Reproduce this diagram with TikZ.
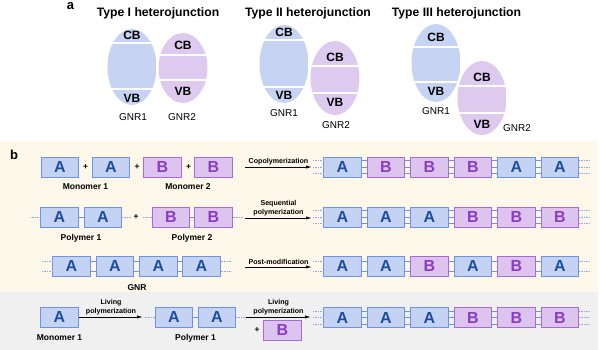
\documentclass[tikz,border=0pt]{standalone}
\usepackage{fontspec}
\setmainfont{Liberation Sans}
\usepackage{tikz}
\usetikzlibrary{arrows.meta,positioning,calc}
\definecolor{fillA}{HTML}{C4D2F4}
\definecolor{drawA}{HTML}{6D93E6}
\definecolor{textA}{HTML}{1D4E9E}
\definecolor{fillB}{HTML}{DCC4EE}
\definecolor{drawB}{HTML}{A76BD9}
\definecolor{textB}{HTML}{8B3CC2}
\definecolor{gnrblue}{HTML}{C6D3F2}
\definecolor{gnrpurple}{HTML}{DEC9EF}
\definecolor{cream}{HTML}{FDF8E9}
\definecolor{greyband}{HTML}{F0F0F0}

\begin{document}
\begin{tikzpicture}[x=1pt,y=-1pt,
  unit/.style={draw=draw#1,fill=fill#1,text=text#1,line width=0.8pt,
    minimum width=37.5pt,minimum height=20pt,inner sep=0pt,
    font=\fontsize{16}{16}\selectfont\bfseries},
  bond/.style={draw=drawA,line width=0.7pt},
  tail/.style={draw=drawA!80,densely dotted,line width=0.6pt},
  rxn/.style={-{Latex[length=6pt,width=3.2pt]},line width=0.9pt},
  rxnlbl/.style={font=\fontsize{7.1}{8.7}\selectfont\bfseries,align=center,
    above=1.5pt,inner sep=0pt},
  lbl/.style={font=\fontsize{8.5}{10}\selectfont\bfseries},
  band/.style={font=\fontsize{12}{12}\selectfont\bfseries},
  gnr/.style={font=\fontsize{10}{10}\selectfont},
  title/.style={font=\fontsize{12.2}{13}\selectfont\bfseries},
  panel/.style={font=\fontsize{13}{13}\selectfont\bfseries},
  plus/.style={font=\fontsize{8.5}{8.5}\selectfont\bfseries}]
  \useasboundingbox (0,0) rectangle (600,350);

  % panel a: band alignment
  \node[panel] (pa) at (70.5,6) {a};
  \node[title] (t1) at (158,13) {Type I heterojunction};
  \node[title] (t2) at (308,13) {Type II heterojunction};
  \node[title] (t3) at (456.5,13) {Type III heterojunction};
  \foreach \k/\cx/\cy/\ry/\col/\la/\lb/\cb/\vb in {
      1/132/67/38/gnrblue/43/89/35/98,
      2/183/68/35/gnrpurple/55/80/45/91,
      3/284/64/39/gnrblue/40/87/32/95,
      4/335/78/37/gnrpurple/66/93/57/102,
      5/436/63/39/gnrblue/47/82/37/91,
      6/482/98/37/gnrpurple/86/113/77/124} {
    \begin{scope}
      \clip (\cx,\cy) ellipse [x radius=24.5, y radius=\ry];
      \fill[\col] (\cx-25,\cy-\ry) rectangle (\cx+25,\cy+\ry);
      \draw[white,line width=1.6pt]
        (\cx-25,\la) -- (\cx+25,\la) (\cx-25,\lb) -- (\cx+25,\lb);
    \end{scope}
    \node[band] (cb\k) at (\cx,\cb) {CB};
    \node[band] (vb\k) at (\cx,\vb) {VB};
  }
  \node[gnr] (n1) at (133,117) {GNR1};
  \node[gnr] (n2) at (182,117) {GNR2};
  \node[gnr] (n3) at (284,113) {GNR1};
  \node[gnr] (n4) at (336,125) {GNR2};
  \node[gnr] (n5) at (436,111) {GNR1};
  \node[gnr] (n6) at (517,128) {GNR2};

  % panel b: backgrounds
  \fill[cream] (0,141) rectangle (598,292);
  \fill[greyband] (0,292) rectangle (598,350);
  \node[panel] (pb) at (14,155) {b};

  % product chains
  \foreach \r/\y/\seq/\offs in {
      1/167/{A,B,B,B,A,A}/{-6.5,0,6.5},
      2/217/{A,A,A,B,B,B}/{-6.5,0,6.5},
      3/266/{A,A,B,A,B,A}/{-5,5},
      4/317.5/{A,A,A,B,B,B}/{-6.5,0,6.5}} {
    \foreach \u [count=\i] in \seq
      \node[unit=\u] (c\r-\i) at ({342.5+43.5*(\i-1)},\y) {\u};
    \foreach \i [evaluate=\i as \j using int(\i+1)] in {1,...,5}
      \foreach \s in \offs
        \draw[bond] ([yshift=\s pt]c\r-\i.east) -- ([yshift=\s pt]c\r-\j.west);
    \foreach \s in \offs {
      \draw[tail] ([yshift=\s pt]c\r-1.west) -- ++(-11,0);
      \draw[tail] ([yshift=\s pt]c\r-6.east) -- ++(11,0);
    }
  }

  % row 1: copolymerization
  \node[unit=A] (m1) at (60,167) {A};
  \node[plus] (p1) at (85.5,167) {+};
  \node[unit=A] (m2) at (111,167) {A};
  \node[plus] (p2) at (137,167) {+};
  \node[unit=B] (m3) at (162.5,167) {B};
  \node[plus] (p3) at (188.5,167) {+};
  \node[unit=B] (m4) at (213.5,167) {B};
  \node[lbl] (l1) at (85.5,187) {Monomer 1};
  \node[lbl] (l2) at (188,187) {Monomer 2};
  \coordinate (s1) at (245,167);
  \coordinate (e1) at (312,167);
  \draw[rxn] (s1) -- (e1) node[rxnlbl,midway] (r1) {Copolymerization};

  % row 2: sequential polymerization
  \node[unit=A] (q1) at (59.5,217) {A};
  \node[unit=A] (q2) at (103,217) {A};
  \node[plus] (p4) at (136,217) {+};
  \node[unit=B] (q3) at (171,217) {B};
  \node[unit=B] (q4) at (213.5,217) {B};
  \draw[bond] (q1) -- (q2);
  \draw[bond] (q3) -- (q4);
  \draw[tail] (q1.west) -- ++(-10,0);
  \draw[tail] (q2.east) -- ++(9,0);
  \draw[tail] (q3.west) -- ++(-9,0);
  \draw[tail] (q4.east) -- ++(10,0);
  \node[lbl] (l3) at (81,238) {Polymer 1};
  \node[lbl] (l4) at (192,238) {Polymer 2};
  \coordinate (s2) at (245,218);
  \coordinate (e2) at (312,218);
  \draw[rxn] (s2) -- (e2) node[rxnlbl,midway] (r2) {Sequential\\polymerization};

  % row 3: post-modification
  \foreach \x [count=\i] in {71.5,115,158.5,201.5}
    \node[unit=A] (g\i) at (\x,266) {A};
  \foreach \i [evaluate=\i as \j using int(\i+1)] in {1,2,3}
    \foreach \s in {-5,5}
      \draw[bond] ([yshift=\s pt]g\i.east) -- ([yshift=\s pt]g\j.west);
  \foreach \s in {-5,5} {
    \draw[tail] ([yshift=\s pt]g1.west) -- ++(-10,0);
    \draw[tail] ([yshift=\s pt]g4.east) -- ++(10,0);
  }
  \node[lbl] (l5) at (137,288) {GNR};
  \coordinate (s3) at (245,267);
  \coordinate (e3) at (312,267);
  \draw[rxn] (s3) -- (e3) node[rxnlbl,midway] (r3) {Post-modification};

  % row 4: living polymerization
  \node[unit=A] (v1) at (59.5,317) {A};
  \node[lbl] (l6) at (59.5,338) {Monomer 1};
  \coordinate (s4) at (79,317);
  \coordinate (e4) at (143,317);
  \draw[rxn] (s4) -- (e4) node[rxnlbl,midway] (r4) {Living\\polymerization};
  \node[unit=A] (v2) at (174,317) {A};
  \node[unit=A] (v3) at (217,317) {A};
  \draw[bond] (v2) -- (v3);
  \draw[tail] (v2.west) -- ++(-10,0);
  \draw[tail] (v3.east) -- ++(10,0);
  \node[lbl] (l7) at (195.5,338) {Polymer 1};
  \coordinate (s5) at (246,317);
  \coordinate (e5) at (311,317);
  \draw[rxn] (s5) -- (e5) node[rxnlbl,midway] (r5) {Living\\polymerization};
  \node[plus] (p5) at (257,330) {+};
  \node[unit=B] (v4) at (282.5,330) {B};
\end{tikzpicture}
\end{document}
